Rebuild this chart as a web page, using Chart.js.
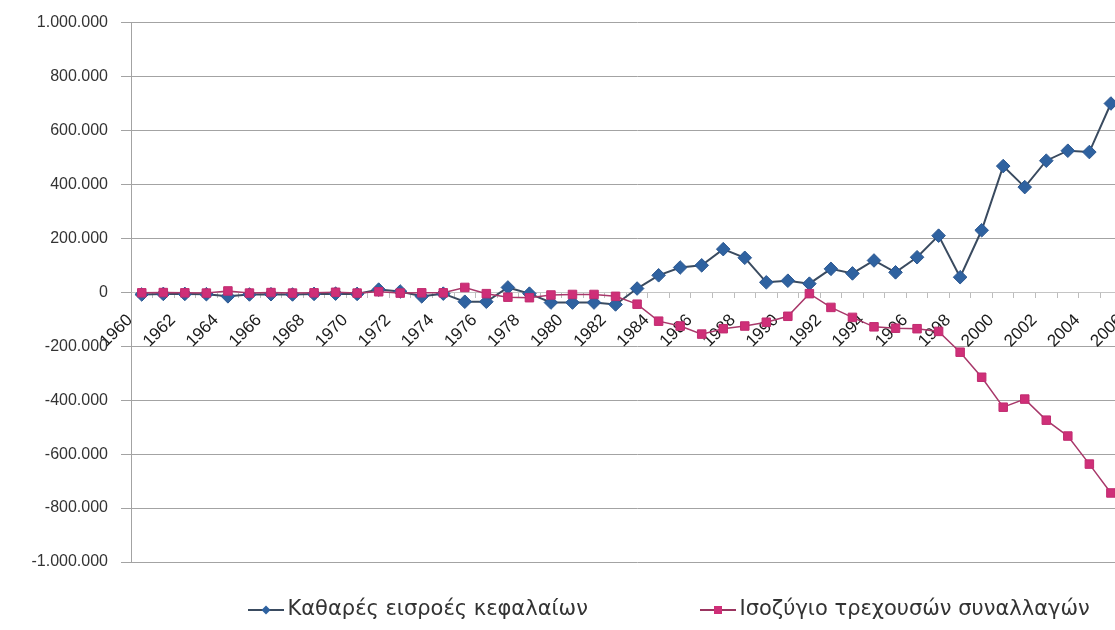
<!DOCTYPE html>
<html>
<head>
<meta charset="utf-8">
<script src="https://cdn.jsdelivr.net/npm/chart.js@4.4.1/dist/chart.umd.min.js"></script>
<style>
  html, body { margin: 0; padding: 0; background: #ffffff; overflow: hidden; width: 1115px; height: 630px; }
  #wrap { position: relative; width: 1160px; height: 630px; }
</style>
</head>
<body>
<div id="wrap"><canvas id="chart" width="1160" height="630"></canvas></div>
<script>
// Years on the category axis (1960–2006)
const years = [
  '1960','1961','1962','1963','1964','1965','1966','1967','1968','1969',
  '1970','1971','1972','1973','1974','1975','1976','1977','1978','1979',
  '1980','1981','1982','1983','1984','1985','1986','1987','1988','1989',
  '1990','1991','1992','1993','1994','1995','1996','1997','1998','1999',
  '2000','2001','2002','2003','2004','2005','2006'
];

// Net capital inflows, 1960–2005
const capitalInflows = [
  -8000, -6000, -6000, -7000, -15000, -8000, -7000, -8000, -6000, -5000,
  -6000, 10000, 3000, -15000, -5000, -35000, -35000, 18000, -5000, -38000,
  -38000, -38000, -45000, 14000, 63000, 92000, 100000, 160000, 128000, 37000,
  43000, 32000, 87000, 70000, 118000, 74000, 130000, 210000, 56000, 230000,
  468000, 390000, 488000, 525000, 520000, 700000
];

// Current account balance, 1960–2005
const currentAccount = [
  -2000, -1000, -2000, -3000, 5000, -3000, -1000, -3000, -2000, 0,
  -3000, 2000, -3000, -2000, -2000, 18000, -5000, -18000, -20000, -10000,
  -8000, -8000, -15000, -44000, -107000, -125000, -155000, -135000, -125000, -111000,
  -89000, -5000, -56000, -93000, -128000, -133000, -135000, -145000, -222000, -315000,
  -426000, -396000, -474000, -533000, -637000, -744000
];

// Value axis ticks
const yTickValues = [-1000000, -800000, -600000, -400000, -200000, 0, 200000, 400000, 600000, 800000, 1000000];

const seriesNames = ['Καθαρές εισροές κεφαλαίων', 'Ισοζύγιο τρεχουσών συναλλαγών'];

// Thousands separated by dots: 1.000.000
function formatValue(v) {
  const s = Math.abs(v).toString().replace(/\B(?=(\d{3})+(?!\d))/g, '.');
  return (v < 0 ? '-' : '') + s;
}

// Legend swatch: short line with the series marker in the middle
function legendSwatch(lineColor, fillColor, shape) {
  const c = document.createElement('canvas');
  c.width = 36; c.height = 14;
  const g = c.getContext('2d');
  g.strokeStyle = lineColor;
  g.lineWidth = 2;
  g.beginPath(); g.moveTo(0, 7); g.lineTo(36, 7); g.stroke();
  g.fillStyle = fillColor;
  g.beginPath();
  if (shape === 'diamond') {
    g.moveTo(18, 2.5); g.lineTo(22.5, 7); g.lineTo(18, 11.5); g.lineTo(13.5, 7); g.closePath();
  } else {
    g.rect(14, 3, 8, 8);
  }
  g.fill();
  return c;
}

const swatches = [
  legendSwatch('#3a4b60', '#2f62a0', 'diamond'),
  legendSwatch('#9a3560', '#cf2f78', 'square')
];

const LEGEND_FONT = { family: 'DejaVu Sans', size: 21 };
const LEGEND_START_X = 255;   // left edge of the first swatch box
const LEGEND_SECOND_X = 707;  // left edge of the second swatch box
const LEGEND_TEXT_Y = 610;    // vertical centre of the legend row
const SWATCH_BOX = 22;

// Gap between legend items so the second one starts where wanted
const measureCtx = document.createElement('canvas').getContext('2d');
measureCtx.font = LEGEND_FONT.size + 'px "' + LEGEND_FONT.family + '"';
const firstTextWidth = measureCtx.measureText(seriesNames[0]).width;
const legendGap = Math.max(20, LEGEND_SECOND_X - LEGEND_START_X - SWATCH_BOX - LEGEND_FONT.size / 2 - firstTextWidth);

// Places the legend row under the plot
const legendPlacement = {
  id: 'legendPlacement',
  afterLayout(chart) {
    const lg = chart.legend;
    if (!lg) return;
    lg.left = LEGEND_START_X - legendGap;
    lg.right = lg.left + 3000;
    lg.top = LEGEND_TEXT_Y - legendGap - LEGEND_FONT.size / 2;
    lg.bottom = lg.top + 2 * legendGap + LEGEND_FONT.size + 20;
  }
};

new Chart(document.getElementById('chart'), {
  type: 'line',
  data: {
    labels: years,
    datasets: [
      {
        label: seriesNames[0],
        data: capitalInflows,
        borderColor: '#3a4b60',
        borderWidth: 2,
        backgroundColor: '#2f62a0',
        pointStyle: 'rectRot',
        pointRadius: 6.8,
        pointBackgroundColor: '#2f62a0',
        pointBorderColor: '#2a5690',
        pointBorderWidth: 1,
        tension: 0,
        order: 1
      },
      {
        label: seriesNames[1],
        data: currentAccount,
        borderColor: '#a8386a',
        borderWidth: 1.5,
        backgroundColor: '#cf2f78',
        pointStyle: 'rect',
        pointRadius: 6,
        pointBackgroundColor: '#cf2f78',
        pointBorderColor: '#c02c70',
        pointBorderWidth: 1,
        tension: 0,
        order: 0
      }
    ]
  },
  options: {
    responsive: false,
    animation: false,
    events: [],
    layout: { padding: { left: 0, right: 14, top: 22, bottom: 0 } },
    scales: {
      x: {
        type: 'category',
        offset: true,
        position: { y: 0 },
        grid: {
          display: true,
          drawOnChartArea: false,
          drawTicks: true,
          tickLength: 5,
          offset: true,
          color: '#bdbdbd'
        },
        border: { display: true, color: '#c4c4c4', width: 1 },
        ticks: {
          autoSkip: false,
          minRotation: 45,
          maxRotation: 45,
          padding: 13,
          labelOffset: -12,
          color: '#1a1a1a',
          font: { family: 'Liberation Sans', size: 17 },
          callback: function (value, index) {
            return index % 2 === 0 ? this.getLabelForValue(value) : '';
          }
        }
      },
      y: {
        min: -1000000,
        max: 1000000,
        afterBuildTicks: (scale) => { scale.ticks = yTickValues.map(v => ({ value: v })); },
        afterFit: (scale) => { scale.width = 131; },
        grid: {
          color: (ctx) => (ctx.tick && ctx.tick.value === 0) ? 'rgba(0,0,0,0)' : '#a3a3a3',
          tickColor: '#a3a3a3',
          tickLength: 10,
          lineWidth: 1
        },
        border: { display: true, color: '#a3a3a3', width: 1 },
        ticks: {
          padding: 13,
          color: '#333333',
          font: { family: 'Liberation Sans', size: 16 },
          callback: (v) => formatValue(v)
        }
      }
    },
    plugins: {
      tooltip: { enabled: false },
      title: { display: false },
      legend: {
        display: true,
        position: 'bottom',
        align: 'start',
        maxHeight: 68,
        labels: {
          usePointStyle: true,
          pointStyleWidth: SWATCH_BOX,
          padding: legendGap,
          color: '#333333',
          font: LEGEND_FONT,
          sort: (a, b) => a.datasetIndex - b.datasetIndex,
          generateLabels: (chart) => {
            const items = Chart.defaults.plugins.legend.labels.generateLabels(chart);
            items.forEach(it => { it.pointStyle = swatches[it.datasetIndex]; });
            return items;
          }
        }
      }
    }
  },
  plugins: [legendPlacement]
});
</script>
</body>
</html>
